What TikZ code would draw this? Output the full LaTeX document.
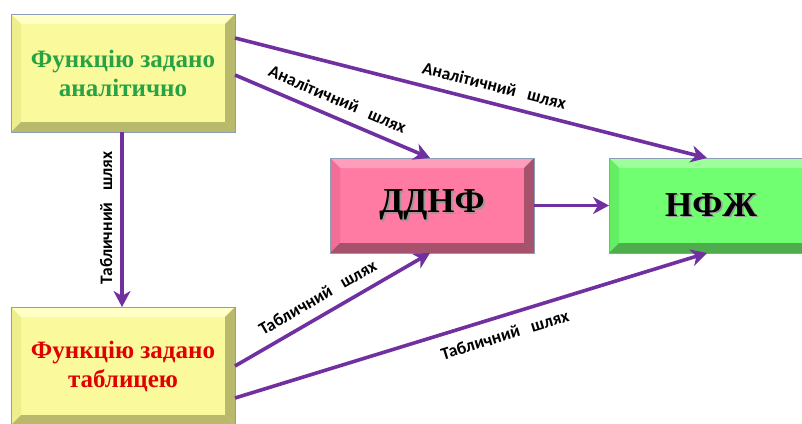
\documentclass[tikz,border=0pt]{standalone}
\usepackage{fontspec}
\setmainfont{Liberation Serif}
\newfontfamily\labfont{Carlito}
\usetikzlibrary{arrows.meta}
\definecolor{arrc}{HTML}{7030A0}
\definecolor{ymain}{HTML}{FAFA9C}
\definecolor{ytop}{HTML}{FFFFC6}
\definecolor{yleft}{HTML}{EEEE8C}
\definecolor{ydark}{HTML}{B9B96C}
\definecolor{pmain}{HTML}{FF7BA3}
\definecolor{ptop}{HTML}{FF9EBC}
\definecolor{pleft}{HTML}{F26E98}
\definecolor{pdark}{HTML}{A6526C}
\definecolor{gmain}{HTML}{70FF70}
\definecolor{gtop}{HTML}{9CFF9C}
\definecolor{gleft}{HTML}{64EE64}
\definecolor{gdark}{HTML}{4EAE4E}
\definecolor{txtgreen}{HTML}{27A244}
\definecolor{txtred}{HTML}{E00000}
\definecolor{edgec}{HTML}{8C9DB5}
\newcommand\shtext[1]{\rlap{\kern1.8pt\raisebox{-1.8pt}{\color{black!40}#1}}#1}
\tikzset{
  bev/.style n args={4}{path picture={
    \fill[#1] (path picture bounding box.north west) -- (path picture bounding box.north east)
      -- ([shift={(-10pt,-10pt)}]path picture bounding box.north east)
      -- ([shift={(10pt,-10pt)}]path picture bounding box.north west) -- cycle;
    \fill[#2] (path picture bounding box.north west)
      -- ([shift={(10pt,-10pt)}]path picture bounding box.north west)
      -- ([shift={(10pt,10pt)}]path picture bounding box.south west)
      -- (path picture bounding box.south west) -- cycle;
    \fill[#3] (path picture bounding box.north east) -- (path picture bounding box.south east)
      -- ([shift={(-10pt,10pt)}]path picture bounding box.south east)
      -- ([shift={(-10pt,-10pt)}]path picture bounding box.north east) -- cycle;
    \fill[#4] (path picture bounding box.south west) -- (path picture bounding box.south east)
      -- ([shift={(-10pt,10pt)}]path picture bounding box.south east)
      -- ([shift={(10pt,10pt)}]path picture bounding box.south west) -- cycle;
  }},
  box/.style={draw=edgec, line width=0.8pt, inner sep=0pt, outer sep=0pt, align=center, font=\bfseries},
  ybox/.style={box, fill=ymain, bev={ytop}{yleft}{ydark}{ydark},
     minimum width=224pt, minimum height=118pt, font=\fontsize{25}{29}\selectfont\bfseries},
  pbox/.style={box, fill=pmain, bev={ptop}{pleft}{pdark}{pdark},
     minimum width=204pt, minimum height=95pt, font=\fontsize{35}{40}\selectfont\bfseries},
  gbox/.style={box, fill=gmain, bev={gtop}{gleft}{gdark}{gdark},
     minimum width=204pt, minimum height=95pt, font=\fontsize{35}{40}\selectfont\bfseries},
  arr/.style={draw=arrc, line width=3.6pt, -{Stealth[length=16pt,width=17pt,inset=5pt]}},
  labtext/.style={font=\labfont\bfseries\fontsize{17.5}{19}\selectfont, text=black, inner sep=0pt},
  lab/.style={labtext, sloped}
}
\begin{document}
\begin{tikzpicture}[x=1pt,y=-1pt]
\useasboundingbox (0,0) rectangle (802,423);
\node[ybox] (A) at (123,73) {\color{txtgreen}Функцію задано\\\color{txtgreen}аналітично};
\node[ybox] (B) at (123,366) {\color{txtred}Функцію задано\\\color{txtred}таблицею};
\node[pbox] (C) at (432,205.5) {\shtext{ДДНФ}};
\node[gbox] (D) at (711,205.5) {\shtext{НФЖ}};
\coordinate (a1) at (235,38);
\coordinate (a2) at (235,75);
\coordinate (b1) at (235,366);
\coordinate (b2) at (235,398);
\coordinate (ct) at (430,158);
\coordinate (cb) at (430,253);
\coordinate (dt) at (707,158);
\coordinate (db) at (707,253);
\coordinate (av) at (122,132);
\coordinate (bv) at (122,307);
\draw[arr] (a1) -- node[lab, pos=0.54, above=10pt] {Аналітичний\ \ \ шлях} (dt);
\draw[arr] (a2) -- node[lab, pos=0.49, above=10pt] {Аналітичний\ \ \ шлях} (ct);
\draw[arr] (av) -- node[labtext, rotate=90, anchor=south, pos=0.49, yshift=8pt] {Табличний\ \ \ шлях} (bv);
\draw[arr] (b1) -- node[lab, pos=0.47, above=10pt] {Табличний\ \ \ шлях} (cb);
\draw[arr] (b2) -- node[lab, pos=0.56, below=11pt] {Табличний\ \ \ шлях} (db);
\draw[arr] (C.east) -- (D.west);
\end{tikzpicture}
\end{document}
